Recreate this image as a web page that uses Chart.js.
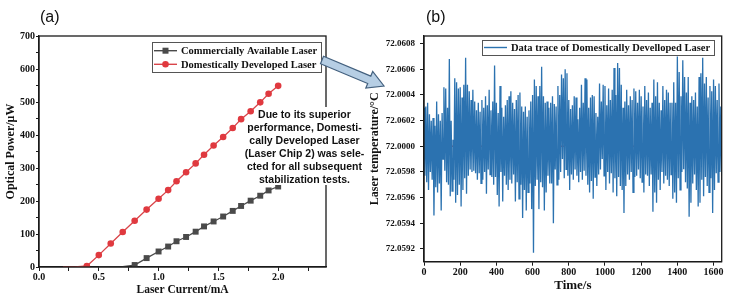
<!DOCTYPE html>
<html lang="en">
<head>
<meta charset="UTF-8">
<title>Laser output power and temperature trace</title>
<script src="https://cdn.jsdelivr.net/npm/chart.js"></script>
<style>
  body { margin: 0; background: #fff; width: 731px; height: 301px; position: relative; overflow: hidden; }
  canvas { position: absolute; top: 0; }
  #chartA { left: 0; }
  #chartB { left: 364px; }
  .tag { position: absolute; top: 8px; font: 16px "Liberation Sans", Arial, sans-serif; color: #111; }
  #note {
    position: absolute; left: 241px; top: 107px; width: 127px;
    text-align: center; color: #111;
    font: bold 10.5px/13px "Liberation Sans", Arial, sans-serif;
  }
  #note span { background: #fff; padding: 0.5px 2px; }
  #arrow { position: absolute; left: 0; top: 0; pointer-events: none; }
</style>
</head>
<body>
  <canvas id="chartA" width="340" height="301"></canvas>
  <canvas id="chartB" width="367" height="301"></canvas>
  <div class="tag" style="left:40px">(a)</div>
  <div class="tag" style="left:426px">(b)</div>
  <div id="note"><span>Due to its superior</span><br><span>performance, Domesti-</span><br><span>cally Developed Laser</span><br><span>(Laser Chip 2) was sele-</span><br><span>cted for all subsequent</span><br><span>stabilization tests.</span></div>
  <svg id="arrow" width="731" height="301">
    <polygon points="323.5,56.3 370.8,76.1 372.7,71.5 384,86 365.8,88.1 367.7,83.5 320.5,63.7"
             fill="#b6cee4" stroke="#44617f" stroke-width="1.2" stroke-linejoin="miter"/>
  </svg>
<script>
// ---- panel (a): optical power vs. laser current ----
const currentCommercial = [0.5, 0.6, 0.7, 0.8, 0.9, 1.0, 1.08, 1.15, 1.23, 1.31, 1.38, 1.46, 1.54, 1.62, 1.69, 1.77, 1.85, 1.92, 2.0];
const powerCommercial   = [0, 0, 1, 6, 27, 47, 62, 78, 91, 107, 123, 138, 153, 170, 185, 201, 216, 232, 244];
const currentDomestic = [0.2, 0.3, 0.4, 0.5, 0.6, 0.7, 0.8, 0.9, 1.0, 1.08, 1.15, 1.23, 1.31, 1.38, 1.46, 1.54, 1.62, 1.69, 1.77, 1.85, 1.92, 2.0];
const powerDomestic   = [0, 0, 3, 36, 71, 106, 140, 174, 207, 233, 260, 287, 314, 340, 368, 394, 421, 448, 472, 499, 525, 549];
const currentTickValues = [0, 0.25, 0.5, 0.75, 1.0, 1.25, 1.5, 1.75, 2.0, 2.25];
const currentTickLabels = ['0.0', '', '0.5', '', '1.0', '', '1.5', '', '2.0', ''];
const powerTickValues = [0, 50, 100, 150, 200, 250, 300, 350, 400, 450, 500, 550, 600, 650, 700];
const powerTickLabels = ['0', '', '100', '', '200', '', '300', '', '400', '', '500', '', '600', '', '700'];

// ---- panel (b): laser temperature trace (upper / lower swing of each 10 s slot) ----
const traceHigh = [
  72.06030, 72.06031, 72.06034, 72.06025, 72.06020, 72.06022, 72.06016, 72.06035, 72.06025, 72.06020,
  72.06026, 72.06046, 72.06045, 72.06030, 72.06068, 72.06020, 72.06005, 72.06053, 72.06050, 72.06045,
  72.06046, 72.06038, 72.06048, 72.06069, 72.06048, 72.06043, 72.06036, 72.06044, 72.06035, 72.06028,
  72.06034, 72.06027, 72.06036, 72.06030, 72.06039, 72.06032, 72.06044, 72.06028, 72.06035, 72.06063,
  72.06034, 72.06026, 72.06047, 72.06030, 72.06023, 72.06032, 72.06036, 72.06039, 72.06043, 72.06034,
  72.06029, 72.06036, 72.06040, 72.06042, 72.06031, 72.06027, 72.06031, 72.06023, 72.06028, 72.06035,
  72.06040, 72.06052, 72.06047, 72.06039, 72.06047, 72.06062, 72.06039, 72.06034, 72.06035, 72.06030,
  72.06034, 72.06039, 72.06033, 72.06031, 72.06047, 72.06040, 72.06056, 72.06053, 72.06060, 72.06057,
  72.06036, 72.06029, 72.06032, 72.06039, 72.06038, 72.06021, 72.06030, 72.06048, 72.06034, 72.06053,
  72.06052, 72.06030, 72.06038, 72.06040, 72.06039, 72.06026, 72.06023, 72.06049, 72.06035, 72.06048,
  72.06047, 72.06032, 72.06045, 72.06036, 72.06044, 72.06061, 72.06040, 72.06065, 72.06061, 72.06048,
  72.06030, 72.06035, 72.06044, 72.06032, 72.06039, 72.06036, 72.06045, 72.06043, 72.06034, 72.06044,
  72.06039, 72.06031, 72.06047, 72.06036, 72.06042, 72.06030, 72.06034, 72.06052, 72.06039, 72.06050,
  72.06034, 72.06028, 72.06047, 72.06036, 72.06044, 72.06042, 72.06034, 72.06034, 72.06050, 72.06034,
  72.06070, 72.06058, 72.06039, 72.06067, 72.06054, 72.06042, 72.06054, 72.06034, 72.06039, 72.06036,
  72.06042, 72.06031, 72.06054, 72.06057, 72.06069, 72.06049, 72.06054, 72.06038, 72.06047, 72.06043,
  72.06052, 72.06047, 72.06036, 72.06049, 72.06031
];
const traceLow = [
  72.05977, 72.05972, 72.05966, 72.05980, 72.05974, 72.05946, 72.05968, 72.05964, 72.05971, 72.05950,
  72.05990, 72.05981, 72.05972, 72.05970, 72.05961, 72.05965, 72.05974, 72.05956, 72.05962, 72.05970,
  72.05953, 72.05966, 72.05975, 72.05963, 72.05977, 72.05982, 72.05980, 72.05981, 72.05979, 72.05974,
  72.05979, 72.05971, 72.05974, 72.05980, 72.05963, 72.05982, 72.05978, 72.05976, 72.05970, 72.05976,
  72.05962, 72.05953, 72.05980, 72.05957, 72.05977, 72.05970, 72.05966, 72.05974, 72.05971, 72.05978,
  72.05957, 72.05972, 72.05959, 72.05970, 72.05944, 72.05966, 72.05950, 72.05964, 72.05971, 72.05951,
  72.05917, 72.05969, 72.05974, 72.05951, 72.05972, 72.05968, 72.05950, 72.05964, 72.05977, 72.05971,
  72.05971, 72.05940, 72.05982, 72.05970, 72.05974, 72.05980, 72.05990, 72.05975, 72.05982, 72.05977,
  72.05966, 72.05978, 72.05974, 72.05982, 72.05977, 72.05972, 72.05980, 72.05974, 72.05981, 72.05977,
  72.05970, 72.05964, 72.05973, 72.05959, 72.05976, 72.05969, 72.05978, 72.05982, 72.05990, 72.05977,
  72.05966, 72.05980, 72.05971, 72.05979, 72.05964, 72.05975, 72.05961, 72.05976, 72.05969, 72.05966,
  72.05948, 72.05969, 72.05978, 72.05974, 72.05980, 72.05964, 72.05976, 72.05977, 72.05982, 72.05975,
  72.05972, 72.05964, 72.05978, 72.05977, 72.05969, 72.05978, 72.05949, 72.05964, 72.05956, 72.05974,
  72.05966, 72.05980, 72.05971, 72.05977, 72.05974, 72.05969, 72.05978, 72.05959, 72.05964, 72.05956,
  72.05975, 72.05966, 72.05980, 72.05982, 72.05972, 72.05967, 72.05945, 72.05956, 72.05971, 72.05978,
  72.05966, 72.05953, 72.05956, 72.05974, 72.05961, 72.05976, 72.05969, 72.05964, 72.05975, 72.05948,
  72.05966, 72.05979, 72.05972, 72.05980, 72.05977
];
const slotSeconds = 10;
const referenceLevel = 72.0600;
const timeTickValues = [0, 200, 400, 600, 800, 1000, 1200, 1400, 1600];
const timeTickLabels = ['0', '200', '400', '600', '800', '1000', '1200', '1400', '1600'];
const tempTickValues = [72.0592, 72.0594, 72.0596, 72.0598, 72.0600, 72.0602, 72.0604, 72.0606, 72.0608];
// labels exactly as printed on the original figure
const tempTickLabels = ['72.0592', '72.0594', '72.0596', '72.0598', '72.0000', '72.0602', '72.0004', '72.0606', '72.0608'];

const serif = '"Liberation Serif", "Times New Roman", serif';
Chart.defaults.font.family = serif;
Chart.defaults.font.weight = 'bold';
Chart.defaults.color = '#111';
Chart.defaults.animation = false;

// frame round the plot area + legend box inside it
const framePlugin = {
  id: 'framePlugin',
  afterDatasetsDraw(chart, args, opts) {
    const { ctx, chartArea: a } = chart;
    ctx.save();
    ctx.strokeStyle = '#1a1a1a';
    ctx.lineWidth = 1.3;
    ctx.strokeRect(a.left, a.top, a.right - a.left, a.bottom - a.top);
    const lg = opts.legend;
    if (lg) {
      ctx.fillStyle = '#fff';
      ctx.fillRect(lg.x, lg.y, lg.w, lg.h);
      ctx.strokeStyle = '#555';
      ctx.lineWidth = 1;
      ctx.strokeRect(lg.x + 0.5, lg.y + 0.5, lg.w, lg.h);
      ctx.font = 'bold 10.5px ' + serif;
      ctx.textBaseline = 'middle';
      let row = 0;
      chart.data.datasets.forEach(ds => {
        if (!ds.label) return;
        const y = lg.y + lg.firstRow + row * lg.rowGap;
        ctx.strokeStyle = ds.borderColor;
        ctx.lineWidth = 1.4;
        ctx.beginPath();
        ctx.moveTo(lg.x + 2, y);
        ctx.lineTo(lg.x + 2 + lg.lineLen, y);
        ctx.stroke();
        const cx = lg.x + 2 + lg.lineLen / 2;
        ctx.fillStyle = ds.backgroundColor;
        if (ds.pointStyle === 'rect') {
          ctx.fillRect(cx - 3, y - 3, 6, 6);
        } else if (ds.pointStyle === 'circle') {
          ctx.beginPath();
          ctx.arc(cx, y, 3.3, 0, Math.PI * 2);
          ctx.fill();
        }
        ctx.fillStyle = '#111';
        ctx.fillText(ds.label, lg.x + lg.textX, y + 0.5);
        row++;
      });
    }
    ctx.restore();
  }
};

function fixedTicks(values) {
  return scale => { scale.ticks = values.map(v => ({ value: v })); };
}

// ---------- chart (a) ----------
new Chart(document.getElementById('chartA'), {
  type: 'line',
  data: {
    datasets: [
      {
        label: 'Commercially Available Laser',
        data: currentCommercial.map((x, i) => ({ x, y: powerCommercial[i] })),
        borderColor: '#4a4a4a',
        backgroundColor: '#4a4a4a',
        borderWidth: 1.3,
        pointStyle: 'rect',
        pointRadius: currentCommercial.map((_, i) => (i < 3 ? 0 : 4.2)),
        pointBorderWidth: 0
      },
      {
        label: 'Domestically Developed Laser',
        data: currentDomestic.map((x, i) => ({ x, y: powerDomestic[i] })),
        borderColor: '#d9454a',
        backgroundColor: '#e0393f',
        borderWidth: 1.3,
        pointStyle: 'circle',
        pointRadius: currentDomestic.map((_, i) => (i < 2 ? 0 : 3.3)),
        pointBorderWidth: 0
      }
    ]
  },
  options: {
    responsive: false,
    layout: { padding: { left: 0, top: 36, right: 14, bottom: 0 } },
    plugins: {
      legend: { display: false },
      tooltip: { enabled: false },
      framePlugin: { legend: { x: 152, y: 42, w: 169, h: 30, firstRow: 8.7, rowGap: 13.6, lineLen: 23, textX: 29 } }
    },
    scales: {
      x: {
        type: 'linear', min: 0, max: 2.4,
        afterBuildTicks: fixedTicks(currentTickValues),
        afterFit: s => { s.height = 34; },
        grid: { drawOnChartArea: false, tickLength: 4, color: '#1a1a1a' },
        border: { color: '#1a1a1a', width: 1.3 },
        ticks: { autoSkip: false, maxRotation: 0, padding: 0, font: { size: 10 },
                 callback: (v, i) => currentTickLabels[i] },
        title: { display: true, text: 'Laser Current/mA', font: { size: 11.5 }, padding: { top: 0, bottom: 4 } }
      },
      y: {
        type: 'linear', min: 0, max: 700,
        afterBuildTicks: fixedTicks(powerTickValues),
        afterFit: s => { s.width = 39; },
        grid: { drawOnChartArea: false, tickLength: 3, color: '#1a1a1a' },
        border: { color: '#1a1a1a', width: 1.3 },
        ticks: { autoSkip: false, padding: 1, font: { size: 10 },
                 callback: (v, i) => powerTickLabels[i] },
        title: { display: true, text: 'Optical Power/\u03bcW', font: { size: 12 }, padding: { top: 4, bottom: 0 } }
      }
    }
  },
  plugins: [framePlugin]
});

// ---------- chart (b) ----------
const tracePoints = [];
traceHigh.forEach((v, i) => {
  tracePoints.push({ x: i * slotSeconds, y: v });
  tracePoints.push({ x: i * slotSeconds + slotSeconds / 2, y: traceLow[i] });
});

new Chart(document.getElementById('chartB'), {
  type: 'line',
  data: {
    datasets: [
      {
        label: 'Data trace of Domestically Develloped Laser',
        data: tracePoints,
        borderColor: '#2b72b0',
        backgroundColor: '#2b72b0',
        borderWidth: 1.3,
        pointRadius: 0,
        pointStyle: false
      },
      {
        data: [{ x: 0, y: referenceLevel }, { x: 1645, y: referenceLevel }],
        borderColor: '#c23b40',
        borderWidth: 1.5,
        borderDash: [5, 4],
        pointRadius: 0
      }
    ]
  },
  options: {
    responsive: false,
    layout: { padding: { left: 0, top: 36, right: 9.3, bottom: 0 } },
    plugins: {
      legend: { display: false },
      tooltip: { enabled: false },
      framePlugin: { legend: { x: 118, y: 40, w: 232, h: 15, firstRow: 7.5, rowGap: 13, lineLen: 23, textX: 29 } }
    },
    scales: {
      x: {
        type: 'linear', min: 0, max: 1645,
        afterBuildTicks: fixedTicks(timeTickValues),
        afterFit: s => { s.height = 39.3; },
        grid: { drawOnChartArea: false, tickLength: 4, color: '#1a1a1a' },
        border: { color: '#1a1a1a', width: 1.3 },
        ticks: { autoSkip: false, maxRotation: 0, padding: 1, font: { size: 10 },
                 callback: (v, i) => timeTickLabels[i] },
        title: { display: true, text: 'Time/s', font: { size: 13 }, padding: { top: 0, bottom: 8 } }
      },
      y: {
        type: 'linear', min: 72.05910, max: 72.06086,
        afterBuildTicks: fixedTicks(tempTickValues),
        afterFit: s => { s.width = 60; },
        grid: { drawOnChartArea: false, tickLength: 4, color: '#1a1a1a' },
        border: { color: '#1a1a1a', width: 1.3 },
        ticks: { autoSkip: false, padding: 5, font: { size: 9 },
                 callback: (v, i) => tempTickLabels[i] },
        title: { display: true, text: 'Laser temperature/\u00b0C', font: { size: 12 }, padding: { top: 4, bottom: 0 } }
      }
    }
  },
  plugins: [framePlugin]
});
</script>
</body>
</html>
